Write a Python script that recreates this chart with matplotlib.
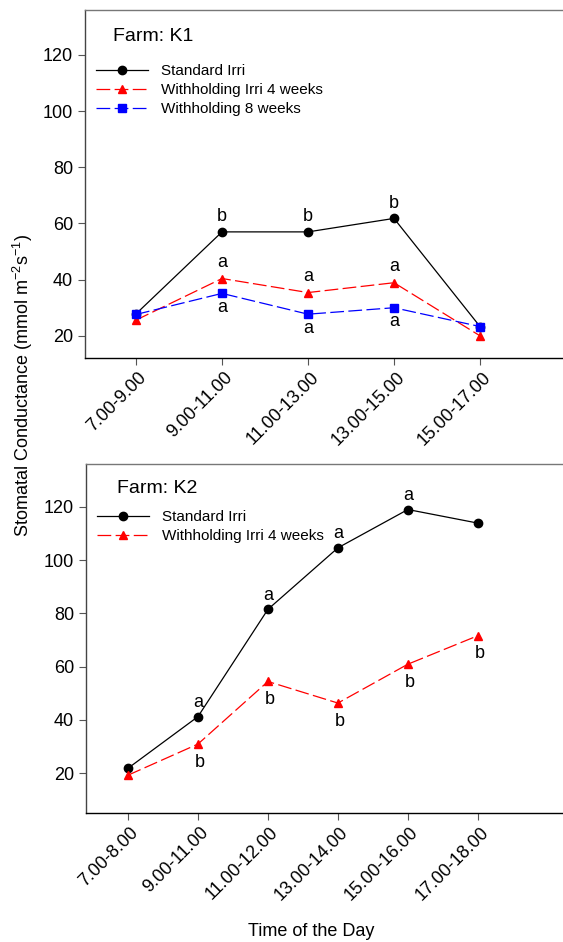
import matplotlib
matplotlib.use('Agg')
import matplotlib.pyplot as plt
import matplotlib.transforms as mtransforms

plt.rcParams['font.family'] = ['Liberation Sans', 'DejaVu Sans']
plt.rcParams['mathtext.fontset'] = 'custom'
plt.rcParams['mathtext.rm'] = 'Liberation Sans'

# Farm K1
k1_times = ['7.00-9.00', '9.00-11.00', '11.00-13.00', '13.00-15.00', '15.00-17.00']
k1_standard = [27.8, 57.0, 57.0, 61.8, 23.3]
k1_withhold4 = [25.6, 40.4, 35.4, 38.9, 20.0]
k1_withhold8 = [27.6, 35.1, 27.7, 30.0, 23.3]
k1_standard_lbl = ['', 'b', 'b', 'b', '']
k1_withhold4_lbl = ['', 'a', 'a', 'a', '']
k1_withhold8_lbl = ['', 'a', 'a', 'a', '']

# Farm K2
k2_times = ['7.00-8.00', '9.00-11.00', '11.00-12.00', '13.00-14.00', '15.00-16.00', '17.00-18.00']
k2_standard = [21.8, 41.2, 81.5, 104.6, 119.0, 113.9]
k2_withhold4 = [19.2, 30.9, 54.4, 46.3, 60.9, 71.6]
k2_standard_lbl = ['', 'a', 'a', 'a', 'a', '']
k2_withhold4_lbl = ['', 'b', 'b', 'b', 'b', 'b']

W, H = 563, 942
fig = plt.figure(figsize=(W / 100, H / 100), dpi=100)


def px_axes(left, top, right, bottom):
    return fig.add_axes([left / W, 1 - bottom / H, (right - left) / W, (bottom - top) / H])


dash = (0, (11, 3.5))


def style_axes(ax, labels):
    ax.set_yticks([20, 40, 60, 80, 100, 120])
    ax.set_xticks(range(len(labels)))
    ax.set_xticklabels(labels, rotation=45, ha='right', va='center', rotation_mode='anchor')
    ax.tick_params(direction='out', length=5, width=0.8, color='#555555', labelsize=13)
    ax.tick_params(axis='x', pad=7)
    # shift rotated labels a little to the right, like the original
    offset = mtransforms.ScaledTranslation(0.08, 0, fig.dpi_scale_trans)
    for lbl in ax.get_xticklabels():
        lbl.set_transform(lbl.get_transform() + offset)
    ax.spines['top'].set_color('#777777')
    ax.spines['left'].set_color('#444444')
    ax.spines['bottom'].set_color('black')
    ax.spines['right'].set_visible(False)
    for s in ['top', 'left', 'bottom']:
        ax.spines[s].set_linewidth(1.0)


def label_points(ax, values, labels, dy, dx=0):
    for i, (v, t) in enumerate(zip(values, labels)):
        if t:
            ax.annotate(t, (i, v), xytext=(dx, dy), textcoords='offset points',
                        ha='center', va='center', fontsize=13)


# top panel
ax1 = px_axes(85, 10, 566, 358)
x1 = range(len(k1_times))
ax1.plot(x1, k1_standard, color='black', lw=0.9, marker='o', ms=6, label='Standard Irri', zorder=3)
ax1.plot(x1, k1_withhold4, color='red', lw=0.9, ls=dash, marker='^', ms=6,
         label='Withholding Irri 4 weeks', zorder=3)
ax1.plot(x1, k1_withhold8, color='blue', lw=0.9, ls=dash, marker='s', ms=5.6,
         label='Withholding 8 weeks', zorder=4)
ax1.set_xlim(-0.593, 5.0)
ax1.set_ylim(12.1, 136)
style_axes(ax1, k1_times)
label_points(ax1, k1_standard, k1_standard_lbl, 11)
label_points(ax1, k1_withhold4, k1_withhold4_lbl, 11.5)
label_points(ax1, k1_withhold8, k1_withhold8_lbl, -10)
ax1.text(0.058, 0.925, 'Farm: K1', transform=ax1.transAxes, fontsize=14, va='center', ha='left')
ax1.legend(loc='upper left', bbox_to_anchor=(0.01, 0.862), frameon=False, fontsize=11,
           handlelength=3.4, handletextpad=0.85, labelspacing=0.33, borderaxespad=0)

# bottom panel
ax2 = px_axes(86, 464, 566, 813)
x2 = range(len(k2_times))
ax2.plot(x2, k2_standard, color='black', lw=0.9, marker='o', ms=6, label='Standard Irri', zorder=3)
ax2.plot(x2, k2_withhold4, color='red', lw=0.9, ls=dash, marker='^', ms=6,
         label='Withholding Irri 4 weeks', zorder=3)
ax2.set_xlim(-0.6, 6.26)
ax2.set_ylim(5, 136.1)
style_axes(ax2, k2_times)
label_points(ax2, k2_standard, k2_standard_lbl, 10)
label_points(ax2, k2_withhold4, k2_withhold4_lbl, -13, dx=1.5)
ax2.text(0.065, 0.931, 'Farm: K2', transform=ax2.transAxes, fontsize=14, va='center', ha='left')
ax2.legend(loc='upper left', bbox_to_anchor=(0.01, 0.885), frameon=False, fontsize=11,
           handlelength=3.4, handletextpad=0.85, labelspacing=0.33, borderaxespad=0)

fig.text(23 / W, 1 - 385 / H, 'Stomatal Conductance (mmol m$^{-2}$s$^{-1}$)',
         rotation=90, ha='center', va='center', fontsize=13)
fig.text(311 / W, 1 - 932 / H, 'Time of the Day', ha='center', va='center', fontsize=13)

fig.savefig('out.png', dpi=100)
